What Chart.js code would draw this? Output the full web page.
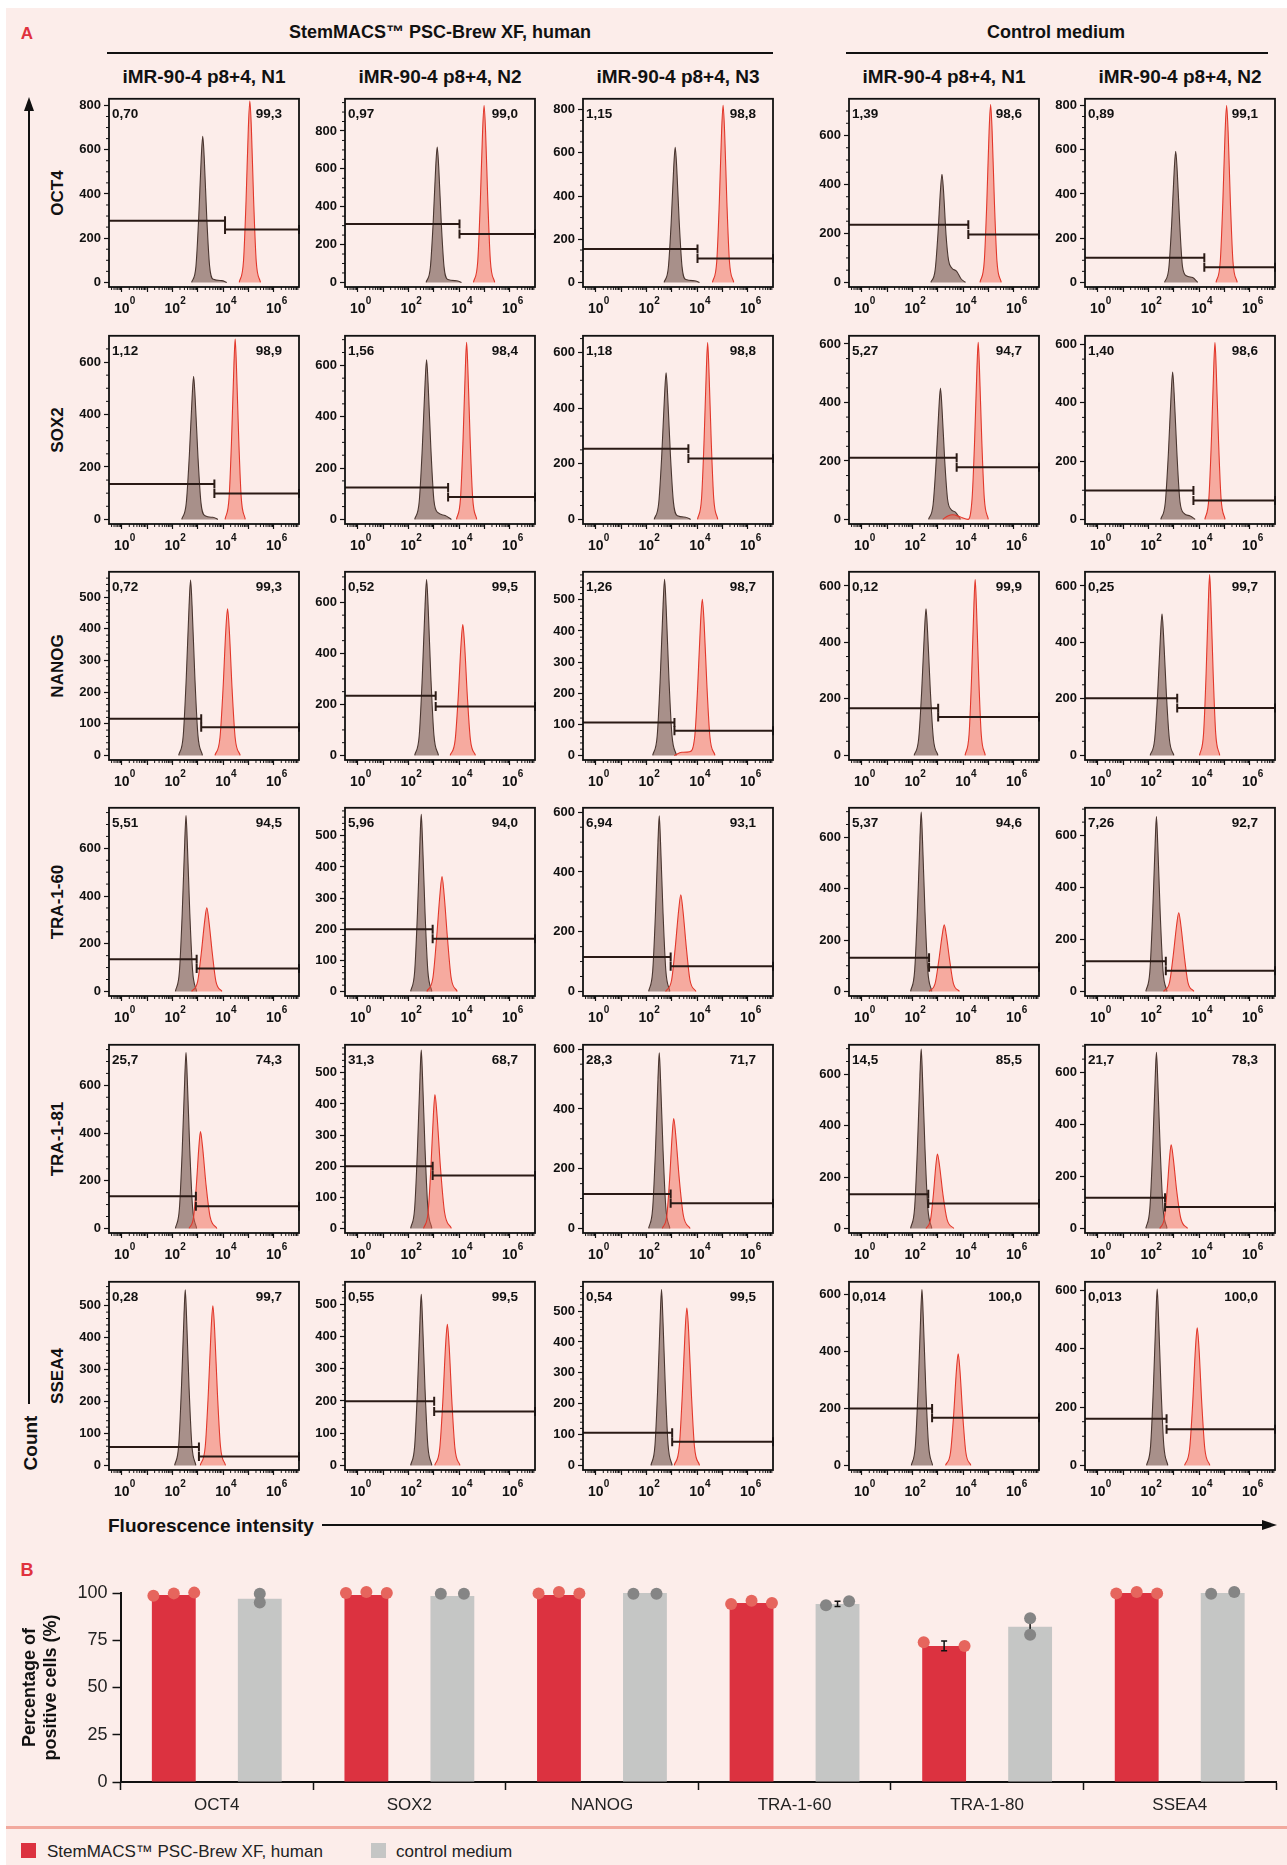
<!DOCTYPE html>
<html>
<head>
<meta charset="utf-8">
<script src="https://cdn.jsdelivr.net/npm/chart.js@4.4.1/dist/chart.umd.min.js"></script>
<style>
  body { margin: 0; width: 1287px; height: 1865px; background: #fff; position: relative; overflow: hidden;
         font-family: 'Liberation Sans', Arial, sans-serif; }
  #page { position: absolute; left: 6px; top: 8px; width: 1281px; height: 1857px; background: #fcedea; }
  .t { position: absolute; white-space: nowrap; color: #111; line-height: 1; }
  .ln { position: absolute; background: #111; }
  .box { position: absolute; }
</style>
</head>
<body>
<div id="page"></div>
<script>
// ---- data ----
const markers = ['OCT4', 'SOX2', 'NANOG', 'TRA-1-60', 'TRA-1-81', 'SSEA4'];
const samples = ['iMR-90-4 p8+4, N1', 'iMR-90-4 p8+4, N2', 'iMR-90-4 p8+4, N3', 'iMR-90-4 p8+4, N1', 'iMR-90-4 p8+4, N2'];
const groups = ['StemMACS\u2122 PSC-Brew XF, human', 'Control medium'];

const negPct = [
  ['0,70', '0,97', '1,15', '1,39', '0,89'],
  ['1,12', '1,56', '1,18', '5,27', '1,40'],
  ['0,72', '0,52', '1,26', '0,12', '0,25'],
  ['5,51', '5,96', '6,94', '5,37', '7,26'],
  ['25,7', '31,3', '28,3', '14,5', '21,7'],
  ['0,28', '0,55', '0,54', '0,014', '0,013']
];
const posPct = [
  ['99,3', '99,0', '98,8', '98,6', '99,1'],
  ['98,9', '98,4', '98,8', '94,7', '98,6'],
  ['99,3', '99,5', '98,7', '99,9', '99,7'],
  ['94,5', '94,0', '93,1', '94,6', '92,7'],
  ['74,3', '68,7', '71,7', '85,5', '78,3'],
  ['99,7', '99,5', '99,5', '100,0', '100,0']
];
const yMax = [
  [830, 970, 850, 750, 830],
  [700, 715, 660, 628, 630],
  [580, 720, 590, 650, 650],
  [770, 590, 615, 715, 705],
  [770, 590, 615, 715, 705],
  [575, 570, 595, 645, 630]
];
const yStep = [
  [200, 200, 200, 200, 200],
  [200, 200, 200, 200, 200],
  [100, 200, 100, 200, 200],
  [200, 100, 200, 200, 200],
  [200, 100, 200, 200, 200],
  [100, 100, 100, 200, 200]
];
// gate: cut position (decades), height of negative gate, height of positive gate
const gateCut = [
  [4.08, 4.02, 4.02, 4.21, 4.21],
  [3.66, 3.57, 3.66, 3.75, 3.78],
  [3.14, 3.08, 3.11, 3.02, 3.14],
  [2.96, 2.96, 2.96, 2.66, 2.69],
  [2.93, 2.96, 2.96, 2.63, 2.66],
  [3.05, 3.02, 3.02, 2.78, 2.72]
];
const gateNegY = [
  [279, 308, 155, 236, 111],
  [135, 124, 254, 211, 99],
  [116, 234, 106, 167, 202],
  [135, 200, 115, 131, 116],
  [135, 200, 115, 133, 118],
  [58, 199, 106, 200, 160]
];
const gatePosY = [
  [239, 256, 111, 196, 68],
  [99, 87, 219, 178, 65],
  [89, 192, 79, 136, 168],
  [96, 169, 84, 94, 79],
  [93, 170, 84, 97, 82],
  [28, 167, 77, 167, 124]
];

// isotype / unstained histograms (grey), [log10 intensity, count]
const isoCurves = [
  [
    [[2.76,0],[2.93,70],[3.04,290],[3.14,561],[3.2,660],[3.26,561],[3.36,290],[3.47,75],[3.62,14],[3.95,8],[4.15,0]],
    [[2.7,0],[2.87,80],[2.98,315],[3.08,608],[3.14,715],[3.2,608],[3.3,315],[3.41,82],[3.56,15],[3.9,9],[4.1,0]],
    [[2.7,0],[2.87,70],[2.98,275],[3.08,531],[3.14,625],[3.2,531],[3.3,275],[3.41,72],[3.56,13],[3.9,8],[4.1,0]],
    [[2.73,0],[2.9,50],[3.01,195],[3.11,376],[3.17,442],[3.23,376],[3.33,195],[3.43,90],[3.55,60],[3.75,45],[3.92,15],[4.1,0]],
    [[2.64,0],[2.81,66],[2.92,262],[3.02,504],[3.08,593],[3.14,504],[3.24,262],[3.35,70],[3.5,30],[3.75,22],[3.95,0]]
  ],
  [
    [[2.37,0],[2.55,62],[2.67,242],[2.78,464],[2.84,546],[2.9,464],[3.01,242],[3.13,64],[3.29,14],[3.6,8],[3.8,0]],
    [[2.25,0],[2.43,70],[2.55,276],[2.66,529],[2.72,622],[2.78,529],[2.89,276],[3.01,74],[3.17,26],[3.45,15],[3.7,0]],
    [[2.31,0],[2.49,60],[2.61,233],[2.72,448],[2.78,527],[2.84,448],[2.95,233],[3.07,62],[3.23,13],[3.55,8],[3.75,0]],
    [[2.64,0],[2.82,51],[2.94,199],[3.05,382],[3.11,449],[3.17,382],[3.28,199],[3.39,70],[3.52,35],[3.7,25],[3.9,0]],
    [[2.49,0],[2.67,58],[2.79,224],[2.9,430],[2.96,506],[3.02,430],[3.13,224],[3.25,60],[3.41,21],[3.65,12],[3.85,0]]
  ],
  [
    [[2.25,0],[2.43,62],[2.55,245],[2.66,471],[2.72,554],[2.78,471],[2.89,245],[3.01,64],[3.19,0]],
    [[2.25,0],[2.43,78],[2.55,306],[2.66,587],[2.72,690],[2.78,587],[2.89,306],[3.01,80],[3.19,0]],
    [[2.25,0],[2.43,64],[2.55,251],[2.66,481],[2.72,566],[2.78,481],[2.89,251],[3.01,66],[3.19,0]],
    [[2.07,0],[2.25,59],[2.37,230],[2.48,441],[2.54,519],[2.6,441],[2.71,230],[2.83,60],[3.01,0]],
    [[2.07,0],[2.25,57],[2.37,222],[2.48,426],[2.54,501],[2.6,426],[2.71,222],[2.83,58],[3.01,0]]
  ],
  [
    [[2.12,0],[2.28,84],[2.39,327],[2.49,627],[2.54,738],[2.59,627],[2.69,327],[2.8,86],[2.96,0]],
    [[2.09,0],[2.25,64],[2.36,252],[2.46,484],[2.51,569],[2.56,484],[2.66,252],[2.77,66],[2.93,0]],
    [[2.09,0],[2.25,67],[2.36,261],[2.46,500],[2.51,588],[2.56,500],[2.66,261],[2.77,69],[2.93,0]],
    [[1.93,0],[2.09,79],[2.2,309],[2.3,593],[2.35,698],[2.4,593],[2.5,309],[2.61,81],[2.77,0]],
    [[1.9,0],[2.06,76],[2.17,297],[2.27,570],[2.32,671],[2.37,570],[2.47,297],[2.58,78],[2.74,0]]
  ],
  [
    [[2.12,0],[2.28,84],[2.39,327],[2.49,627],[2.54,738],[2.59,627],[2.69,327],[2.8,86],[2.96,0]],
    [[2.09,0],[2.25,65],[2.36,254],[2.46,487],[2.51,573],[2.56,487],[2.66,254],[2.77,67],[2.93,0]],
    [[2.09,0],[2.25,67],[2.36,261],[2.46,500],[2.51,588],[2.56,500],[2.66,261],[2.77,69],[2.93,0]],
    [[1.93,0],[2.09,79],[2.2,309],[2.3,593],[2.35,698],[2.4,593],[2.5,309],[2.61,81],[2.77,0]],
    [[1.9,0],[2.06,77],[2.17,300],[2.27,575],[2.32,676],[2.37,575],[2.47,300],[2.58,79],[2.74,0]]
  ],
  [
    [[2.09,0],[2.25,62],[2.36,244],[2.46,468],[2.51,550],[2.56,468],[2.66,244],[2.77,64],[2.93,0]],
    [[2.09,0],[2.25,60],[2.36,235],[2.46,451],[2.51,531],[2.56,451],[2.66,235],[2.77,62],[2.93,0]],
    [[2.18,0],[2.34,64],[2.45,253],[2.55,485],[2.6,570],[2.65,485],[2.75,253],[2.86,66],[3.02,0]],
    [[1.96,0],[2.12,70],[2.23,274],[2.33,525],[2.38,618],[2.43,525],[2.53,274],[2.64,72],[2.8,0]],
    [[1.93,0],[2.09,68],[2.2,268],[2.3,514],[2.35,605],[2.4,514],[2.5,268],[2.61,70],[2.77,0]]
  ]
];

// antibody-stained histograms (red)
const stainCurves = [
  [
    [[4.64,0],[4.81,98],[4.91,369],[5.0,697],[5.06,820],[5.12,697],[5.21,369],[5.31,98],[5.48,0]],
    [[4.57,0],[4.74,112],[4.84,421],[4.93,795],[4.99,935],[5.05,795],[5.14,421],[5.24,112],[5.41,0]],
    [[4.61,0],[4.78,98],[4.88,369],[4.97,697],[5.03,820],[5.09,697],[5.18,369],[5.28,98],[5.45,0]],
    [[4.67,0],[4.84,87],[4.94,327],[5.03,618],[5.09,727],[5.15,618],[5.24,327],[5.34,87],[5.51,0]],
    [[4.67,0],[4.84,96],[4.94,360],[5.03,680],[5.09,800],[5.15,680],[5.24,360],[5.34,96],[5.51,0]]
  ],
  [
    [[4.08,0],[4.24,83],[4.34,310],[4.43,585],[4.48,688],[4.53,585],[4.62,310],[4.72,83],[4.88,0]],
    [[3.9,0],[4.06,83],[4.16,311],[4.25,587],[4.3,690],[4.35,587],[4.44,311],[4.54,83],[4.7,0]],
    [[4.02,0],[4.18,76],[4.28,286],[4.37,541],[4.42,636],[4.47,541],[4.56,286],[4.66,76],[4.82,0]],
    [[3.2,0],[3.4,12],[3.6,16],[3.9,8],[4.2,0],[4.36,73],[4.46,273],[4.55,515],[4.6,606],[4.65,515],[4.74,273],[4.84,73],[5.0,0]],
    [[4.23,0],[4.39,73],[4.49,273],[4.58,516],[4.63,607],[4.68,516],[4.77,273],[4.87,73],[5.03,0]]
  ],
  [
    [[3.68,0],[3.88,56],[4.0,208],[4.11,394],[4.18,463],[4.25,394],[4.36,208],[4.48,56],[4.68,0]],
    [[3.65,0],[3.85,62],[3.97,231],[4.08,436],[4.15,513],[4.22,436],[4.33,231],[4.45,62],[4.65,0]],
    [[3.1,0],[3.4,10],[3.71,12],[3.91,60],[4.03,226],[4.14,427],[4.21,502],[4.28,427],[4.39,226],[4.51,60],[4.71,0]],
    [[4.08,0],[4.24,75],[4.34,280],[4.43,530],[4.48,623],[4.53,530],[4.62,280],[4.72,75],[4.88,0]],
    [[4.02,0],[4.18,77],[4.28,288],[4.37,544],[4.42,640],[4.47,544],[4.56,288],[4.66,77],[4.82,0]]
  ],
  [
    [[2.76,0],[3.0,42],[3.14,158],[3.28,298],[3.36,351],[3.44,298],[3.58,158],[3.72,42],[3.96,0]],
    [[2.73,0],[2.97,44],[3.11,166],[3.25,314],[3.33,369],[3.41,314],[3.55,166],[3.69,44],[3.93,0]],
    [[2.76,0],[3.0,39],[3.14,146],[3.28,275],[3.36,324],[3.44,275],[3.58,146],[3.72,39],[3.96,0]],
    [[2.66,0],[2.9,31],[3.04,117],[3.18,220],[3.26,259],[3.34,220],[3.48,117],[3.62,31],[3.86,0]],
    [[2.6,0],[2.84,36],[2.98,136],[3.12,257],[3.2,302],[3.28,257],[3.42,136],[3.56,36],[3.8,0]]
  ],
  [
    [[2.66,0],[2.84,49],[2.95,183],[3.05,345],[3.11,406],[3.19,345],[3.33,183],[3.49,49],[3.76,0]],
    [[2.6,0],[2.78,52],[2.89,194],[2.99,366],[3.05,430],[3.13,366],[3.27,194],[3.43,52],[3.7,0]],
    [[2.63,0],[2.81,44],[2.92,166],[3.02,313],[3.08,368],[3.16,313],[3.3,166],[3.46,44],[3.73,0]],
    [[2.54,0],[2.72,35],[2.83,131],[2.93,247],[2.99,290],[3.07,247],[3.21,131],[3.37,35],[3.64,0]],
    [[2.45,0],[2.63,39],[2.74,144],[2.84,273],[2.9,321],[2.98,273],[3.12,144],[3.28,39],[3.55,0]]
  ],
  [
    [[3.1,0],[3.3,60],[3.42,225],[3.53,425],[3.6,500],[3.67,425],[3.78,225],[3.9,60],[4.1,0]],
    [[3.04,0],[3.24,53],[3.36,197],[3.47,372],[3.54,438],[3.61,372],[3.72,197],[3.84,53],[4.04,0]],
    [[3.1,0],[3.3,61],[3.42,230],[3.53,434],[3.6,510],[3.67,434],[3.78,230],[3.9,61],[4.1,0]],
    [[3.31,0],[3.51,47],[3.63,176],[3.74,333],[3.81,392],[3.88,333],[3.99,176],[4.11,47],[4.31,0]],
    [[3.43,0],[3.63,57],[3.75,212],[3.86,401],[3.93,472],[4.0,401],[4.11,212],[4.23,57],[4.43,0]]
  ]
];

// panel B
const barCats = ['OCT4', 'SOX2', 'NANOG', 'TRA-1-60', 'TRA-1-80', 'SSEA4'];
const brewMean = [99.0, 98.9, 98.9, 94.7, 72.0, 100.0];
const ctrlMean = [97.0, 98.4, 100.0, 94.2, 82.1, 100.0];
const brewErr = [0, 0, 0, 0, 2.6, 0];
const ctrlErr = [0, 0, 0, 1.4, 4.4, 0];
const brewDots = [[98.6, 99.8, 100.2], [100.0, 100.5, 100.0], [99.8, 100.5, 99.8], [94.2, 95.9, 94.7], [74.0, null, 72.0], [99.8, 100.5, 99.8]];
const ctrlDots = [[99.6, 95.0], [99.6, 99.6], [99.6, 99.6], [93.5, 95.6], [86.7, 77.9], [99.6, 100.5]];

// ---- layout ----
const colLeft = [109, 345, 583, 849, 1085];
const rowTop = [98, 335, 571, 807, 1044, 1281];
const frameW = 190, frameH = 189;
const xMin = -0.5, xMax = 7.0;
const FONT = "'Liberation Sans', Arial, sans-serif";
Chart.defaults.font.family = FONT;
Chart.defaults.color = '#111';

function text(txt, x, y, css, anchor, rotate) {
  const d = document.createElement('div');
  d.className = 't';
  d.textContent = txt;
  d.style.cssText += css;
  d.style.left = x + 'px';
  d.style.top = y + 'px';
  const tx = anchor === 'left' ? '0' : '-50%';
  d.style.transform = 'translate(' + tx + ',-50%)' + (rotate ? ' rotate(-90deg)' : '');
  document.body.appendChild(d);
}
function rect(x, y, w, h, color) {
  const d = document.createElement('div');
  d.className = 'ln';
  d.style.cssText += 'left:' + x + 'px;top:' + y + 'px;width:' + w + 'px;height:' + h + 'px;background:' + color + ';';
  document.body.appendChild(d);
}
function tri(x, y, dir) {
  const d = document.createElement('div');
  d.className = 'box';
  if (dir === 'up') {
    d.style.cssText += 'left:' + (x - 5) + 'px;top:' + y + 'px;width:0;height:0;border-left:5px solid transparent;border-right:5px solid transparent;border-bottom:14px solid #111;';
  } else {
    d.style.cssText += 'left:' + (x - 15) + 'px;top:' + (y - 5) + 'px;width:0;height:0;border-top:5px solid transparent;border-bottom:5px solid transparent;border-left:15px solid #111;';
  }
  document.body.appendChild(d);
}
function canvasAt(x, y, w, h) {
  const wrap = document.createElement('div');
  wrap.className = 'box';
  wrap.style.cssText += 'left:' + x + 'px;top:' + y + 'px;';
  const cv = document.createElement('canvas');
  cv.width = w;
  cv.height = h;
  wrap.appendChild(cv);
  document.body.appendChild(wrap);
  return cv;
}

// ---- static labels ----
text('A', 27, 33, 'font-weight:bold;font-size:17px;color:#e0323e;');
text('B', 27, 1570, 'font-weight:bold;font-size:18px;color:#e0323e;');
text(groups[0], 440, 32, 'font-weight:bold;font-size:18px;');
text(groups[1], 1056, 32, 'font-weight:bold;font-size:18px;');
rect(107, 52, 666, 2, '#111');
rect(846, 52, 422, 2, '#111');
samples.forEach((s, c) => text(s, colLeft[c] + frameW / 2, 76, 'font-weight:bold;font-size:19px;'));
markers.forEach((m, r) => text(m, 57, rowTop[r] + frameH / 2, 'font-weight:bold;font-size:17px;', null, true));
rect(28, 108, 2, 1296, '#111');
tri(29, 97, 'up');
text('Count', 30, 1443, 'font-weight:bold;font-size:19px;', null, true);
text('Fluorescence intensity', 108, 1525, 'font-weight:bold;font-size:19px;', 'left');
rect(322, 1524, 940, 2, '#111');
tri(1277, 1525, 'right');
rect(6, 1826, 1281, 3, '#f2a99e');
rect(21, 1843, 15, 15, '#dc3240');
text('StemMACS\u2122 PSC-Brew XF, human', 47, 1851, 'font-size:17px;color:#222;', 'left');
rect(371, 1843, 15, 15, '#c5c6c5');
text('control medium', 396, 1851, 'font-size:17px;color:#222;', 'left');

// ---- histogram panels ----
const histDecor = {
  id: 'histDecor',
  afterDraw(chart, args, opts) {
    const {ctx, chartArea: a, scales: {x, y}} = chart;
    ctx.save();
    ctx.strokeStyle = '#111';
    ctx.lineWidth = 1;
    // minor log ticks
    ctx.beginPath();
    for (let n = -1; n <= 6; n++) {
      for (let k = 2; k <= 9; k++) {
        const v = n + Math.log10(k);
        if (v <= xMin || v >= xMax) continue;
        const px = x.getPixelForValue(v);
        ctx.moveTo(px, a.bottom);
        ctx.lineTo(px, a.bottom + 3);
      }
    }
    // minor count ticks
    for (let v = opts.minor; v < y.max; v += opts.minor) {
      if (v % opts.step === 0) continue;
      const py = y.getPixelForValue(v);
      ctx.moveTo(a.left, py);
      ctx.lineTo(a.left - 3, py);
    }
    ctx.stroke();
    // frame
    ctx.lineWidth = 1.8;
    ctx.strokeRect(a.left, a.top, a.right - a.left, a.bottom - a.top);
    // decade labels
    ctx.fillStyle = '#111';
    [0, 2, 4, 6].forEach(v => {
      const px = x.getPixelForValue(v);
      ctx.font = 'bold 14px ' + FONT;
      ctx.textAlign = 'center';
      ctx.textBaseline = 'alphabetic';
      ctx.fillText('10', px, a.bottom + 26);
      ctx.font = 'bold 10px ' + FONT;
      ctx.textAlign = 'left';
      ctx.fillText(String(v), px + 8, a.bottom + 17);
    });
    // gate percentages
    ctx.font = 'bold 13.5px ' + FONT;
    ctx.textBaseline = 'middle';
    ctx.textAlign = 'left';
    ctx.fillText(opts.neg, a.left + 3, a.top + 15);
    ctx.textAlign = 'right';
    ctx.fillText(opts.pos, a.right - 17, a.top + 15);
    ctx.restore();
  }
};

function pts(arr) { return arr.map(p => ({x: p[0], y: p[1]})); }

function makePanel(r, c) {
  const cv = canvasAt(colLeft[c] - 44, rowTop[r] - 10, 44 + frameW + 8, 10 + frameH + 30);
  const ymax = yMax[r][c], step = yStep[r][c];
  const gateColor = '#2a1a15';
  const majors = [];
  for (let v = 0; v <= ymax; v += step) majors.push({value: v});

  new Chart(cv, {
    type: 'line',
    data: {
      datasets: [
        { data: pts(isoCurves[r][c]), fill: 'origin', backgroundColor: 'rgba(112,82,74,0.6)',
          borderColor: '#4a3630', borderWidth: 1.1, pointRadius: 0, cubicInterpolationMode: 'monotone', order: 4 },
        { data: pts(stainCurves[r][c]), fill: 'origin', backgroundColor: 'rgba(240,104,84,0.5)',
          borderColor: '#e2372b', borderWidth: 1.1, pointRadius: 0, cubicInterpolationMode: 'monotone', order: 3 },
        { data: [{x: xMin, y: gateNegY[r][c]}, {x: gateCut[r][c], y: gateNegY[r][c]}],
          borderColor: gateColor, borderWidth: 2, pointStyle: 'line', pointRotation: 90,
          pointRadius: [0, 4.5], pointBorderWidth: 2, pointBorderColor: gateColor, clip: 6, order: 2 },
        { data: [{x: gateCut[r][c], y: gatePosY[r][c]}, {x: xMax, y: gatePosY[r][c]}],
          borderColor: gateColor, borderWidth: 2, pointStyle: 'line', pointRotation: 90,
          pointRadius: [4.5, 4.5], pointBorderWidth: 2, pointBorderColor: gateColor, clip: 6, order: 1 }
      ]
    },
    options: {
      responsive: false,
      animation: false,
      layout: { padding: { top: 10, right: 8 } },
      plugins: {
        legend: { display: false },
        tooltip: { enabled: false },
        histDecor: { neg: negPct[r][c], pos: posPct[r][c], step: step, minor: step === 100 ? 20 : 50 }
      },
      scales: {
        x: {
          type: 'linear', min: xMin, max: xMax,
          afterBuildTicks: s => { s.ticks = [0, 1, 2, 3, 4, 5, 6].map(v => ({value: v})); },
          ticks: { callback: () => '' },
          grid: { drawOnChartArea: false, tickLength: 5, tickColor: '#111', tickWidth: 1.2 },
          border: { display: false },
          afterFit: s => { s.height = 30; }
        },
        y: {
          min: -ymax * 0.025, max: ymax,
          afterBuildTicks: s => { s.ticks = majors.slice(); },
          ticks: { font: { size: 13, weight: 'bold' }, color: '#111', padding: 3 },
          grid: { drawOnChartArea: false, tickLength: 5, tickColor: '#111', tickWidth: 1.2 },
          border: { display: false },
          afterFit: s => { s.width = 44; }
        }
      }
    },
    plugins: [histDecor]
  });
}

markers.forEach((m, r) => samples.forEach((s, c) => makePanel(r, c)));

// ---- panel B: bar chart ----
const catPct = 0.893;
const slot = catPct / 4;      // bar centre offset from category centre (category units)
const padB = { left: 120.5, top: 18, right: 11, bottom: 43 };

const errorBars = {
  id: 'errorBars',
  afterDatasetsDraw(chart) {
    const ctx = chart.ctx, y = chart.scales.y;
    ctx.save();
    ctx.strokeStyle = '#111';
    ctx.lineWidth = 1.5;
    [[0, brewMean, brewErr], [1, ctrlMean, ctrlErr]].forEach(([di, mean, err]) => {
      chart.getDatasetMeta(di).data.forEach((bar, i) => {
        if (!err[i]) return;
        const y1 = y.getPixelForValue(mean[i] + err[i]);
        const y2 = y.getPixelForValue(mean[i] - err[i]);
        ctx.beginPath();
        ctx.moveTo(bar.x, y1); ctx.lineTo(bar.x, y2);
        ctx.moveTo(bar.x - 3, y1); ctx.lineTo(bar.x + 3, y1);
        ctx.moveTo(bar.x - 3, y2); ctx.lineTo(bar.x + 3, y2);
        ctx.stroke();
      });
    });
    ctx.restore();
  }
};

new Chart(canvasAt(0, 1575, 1287, 250), {
  type: 'bar',
  data: {
    labels: barCats,
    datasets: [
      { label: groups[0], data: brewMean, backgroundColor: '#dc3240', categoryPercentage: catPct, barPercentage: 0.51 },
      { label: 'control medium', data: ctrlMean, backgroundColor: '#c5c6c5', categoryPercentage: catPct, barPercentage: 0.51 }
    ]
  },
  options: {
    responsive: false,
    animation: false,
    layout: { padding: { top: padB.top, right: padB.right } },
    plugins: { legend: { display: false }, tooltip: { enabled: false } },
    scales: {
      x: {
        grid: { offset: true, drawOnChartArea: false, tickLength: 8, tickColor: '#111', tickWidth: 1.5 },
        border: { color: '#111', width: 2 },
        ticks: { font: { size: 17 }, color: '#222', padding: 5 },
        afterFit: s => { s.height = padB.bottom; }
      },
      y: {
        min: 0, max: 100,
        ticks: { stepSize: 12.5, callback: v => (v % 25 === 0 ? v : ''), font: { size: 18 }, color: '#222', padding: 5 },
        grid: { drawOnChartArea: false, tickLength: 8, tickColor: '#111', tickWidth: 1.5 },
        border: { color: '#111', width: 2 },
        title: { display: true, text: ['Percentage of', 'positive cells (%)'], font: { size: 18, weight: 'bold' },
                 color: '#111', padding: { top: 19, bottom: 0 } },
        afterFit: s => { s.width = padB.left; }
      }
    }
  },
  plugins: [errorBars]
});

// replicate dots, overlaid on the same plot area
const brewPts = [];
brewDots.forEach((vals, i) => vals.forEach((v, k) => {
  if (v !== null) brewPts.push({x: i - slot + (k - 1) * 0.106, y: v});
}));
const ctrlPts = [];
ctrlDots.forEach((vals, i) => {
  const spread = Math.abs(vals[0] - vals[1]) < 3;
  vals.forEach((v, k) => ctrlPts.push({x: i + slot + (spread ? (k - 0.5) * 0.12 : 0), y: v}));
});

new Chart(canvasAt(0, 1575, 1287, 250), {
  type: 'scatter',
  data: {
    datasets: [
      { data: brewPts, backgroundColor: '#e6655d', borderWidth: 0, pointRadius: 6, clip: false },
      { data: ctrlPts, backgroundColor: '#858585', borderWidth: 0, pointRadius: 6, clip: false }
    ]
  },
  options: {
    responsive: false,
    animation: false,
    layout: { padding: padB },
    plugins: { legend: { display: false }, tooltip: { enabled: false } },
    scales: {
      x: { type: 'linear', min: -0.5, max: 5.5, display: false },
      y: { min: 0, max: 100, display: false }
    }
  }
});
</script>
</body>
</html>
